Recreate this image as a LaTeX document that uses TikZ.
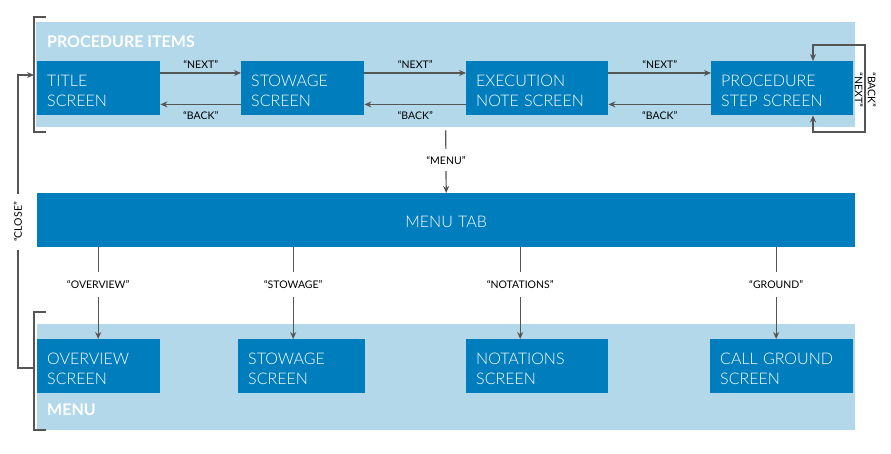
\documentclass[tikz,border=0pt]{standalone}
\usepackage{fontspec}
\setmainfont{Lato}
\newfontfamily\lightfont{Lato Light}
\usetikzlibrary{arrows.meta}
\definecolor{lightband}{HTML}{B3D8EA}
\definecolor{darkbox}{HTML}{007DBD}
\definecolor{linegray}{HTML}{555555}
\newcommand{\fl}{\rule{0pt}{17pt}}
\begin{document}
\begin{tikzpicture}[x=1pt,y=-1pt,
  band/.style={fill=lightband, draw=none, anchor=north west, inner sep=0pt},
  scr/.style={fill=darkbox, draw=none, text=white, font=\lightfont\fontsize{16}{20}\selectfont,
    align=left, anchor=north west, inner xsep=10pt, inner ysep=0pt, minimum height=54pt},
  lbl/.style={font=\fontsize{10.5}{12}\selectfont, text=black, inner sep=1pt},
  gaplbl/.style={lbl, fill=white, minimum height=22pt},
  conn/.style={draw=linegray, line width=1.2pt},
  arr/.style={conn, -{Stealth[length=7pt,width=6pt]}},
  darr/.style={conn, {Stealth[length=7pt,width=6pt]}-{Stealth[length=7pt,width=6pt]}},
  bracket/.style={draw=linegray, line width=1.2pt},
  bandtitle/.style={font=\bfseries\fontsize{16}{18}\selectfont, text=white, anchor=base west, inner sep=0pt}
]
\useasboundingbox (0,0) rectangle (891,453);

% bands
\node[band, minimum width=819pt, minimum height=105pt] (procband) at (36,22) {};
\node[band, minimum width=818pt, minimum height=106pt] (menuband) at (37,324) {};
\node[bandtitle] (proctitle) at (47,47) {PROCEDURE ITEMS};
\node[bandtitle] (menutitle) at (47,415) {MENU};

% brackets
\draw[bracket] (46,17) -- (34,17) -- (34,132) -- (46,132);
\draw[bracket] (46,312) -- (34,312) -- (34,430) -- (46,430);

% procedure boxes
\node[scr, text width=103pt] (title) at (37,61) {\fl TITLE\\SCREEN};
\node[scr, text width=103pt] (stow) at (241,61) {\fl STOWAGE\\SCREEN};
\node[scr, text width=122pt] (exec) at (466,61) {\fl EXECUTION\\NOTE SCREEN};
\node[scr, text width=122pt] (step) at (711,61) {\fl PROCEDURE\\STEP SCREEN};

% next / back
\draw[arr] ([yshift=-12pt]title.north east) -- node[lbl, above=3pt]{“NEXT”} ([yshift=-12pt]stow.north west);
\draw[arr] ([yshift=-12pt]stow.north east) -- node[lbl, above=3pt]{“NEXT”} ([yshift=-12pt]exec.north west);
\draw[arr] ([yshift=-12pt]exec.north east) -- node[lbl, above=3pt]{“NEXT”} ([yshift=-12pt]step.north west);
\draw[arr] ([yshift=11pt]stow.south west) -- node[lbl, below=5pt]{“BACK”} ([yshift=11pt]title.south east);
\draw[arr] ([yshift=11pt]exec.south west) -- node[lbl, below=5pt]{“BACK”} ([yshift=11pt]stow.south east);
\draw[arr] ([yshift=11pt]step.south west) -- node[lbl, below=5pt]{“BACK”} ([yshift=11pt]exec.south east);

% self loop
\coordinate (loopin) at ([xshift=102pt]step.north west);
\coordinate (loopout) at ([xshift=102pt]step.south west);
\coordinate (loopRT) at (865,45);
\coordinate (loopRB) at (865,132);
\draw[darr] (loopout) |- (loopRB) -- (loopRT) -| (loopin);
\node[lbl, rotate=-90, anchor=south] (backlbl) at (866.5,90) {“BACK”};
\node[lbl, rotate=-90, anchor=north] (nextlbl) at (864,90) {“NEXT”};

% menu tab
\node[scr, align=center, text width=798pt] (menutab) at (37,193) {\rule{0pt}{14pt}MENU TAB};
\draw[arr, shorten <=3pt] (procband.south) -- node[gaplbl, pos=0.5]{“MENU”} (menutab.north);

% menu screens
\node[scr, text width=103pt] (ov) at (37,339) {\fl OVERVIEW\\SCREEN};
\node[scr, text width=107pt] (stow2) at (238,339) {\fl STOWAGE\\SCREEN};
\node[scr, text width=122pt] (nota) at (466,339) {\fl NOTATIONS\\SCREEN};
\node[scr, text width=123pt] (ground) at (710,339) {\fl CALL GROUND\\SCREEN};

\coordinate (c1) at ([xshift=-0.5pt]ov.north);
\coordinate (c2) at ([xshift=-8.5pt]stow2.north);
\coordinate (c3) at ([xshift=-17pt]nota.north);
\coordinate (c4) at ([xshift=-5.5pt]ground.north);
\draw[arr] (c1 |- menutab.south) -- node[gaplbl, pos=0.41, minimum height=25pt]{“OVERVIEW”} (c1);
\draw[arr] (c2 |- menutab.south) -- node[gaplbl, pos=0.41, minimum height=25pt]{“STOWAGE”} (c2);
\draw[arr] (c3 |- menutab.south) -- node[gaplbl, pos=0.41, minimum height=25pt]{“NOTATIONS”} (c3);
\draw[arr] (c4 |- menutab.south) -- node[gaplbl, pos=0.41, minimum height=25pt]{“GROUND”} (c4);

% close loop
\coordinate (closefrom) at (34,368);
\coordinate (closeto) at (34,75);
\draw[arr] (closefrom) -- (18,368) -- (18,75) -- (closeto);
\node[lbl, fill=white, rotate=90, minimum height=10pt, inner xsep=8pt] (closelbl) at (18,222) {“CLOSE”};
\end{tikzpicture}
\end{document}
